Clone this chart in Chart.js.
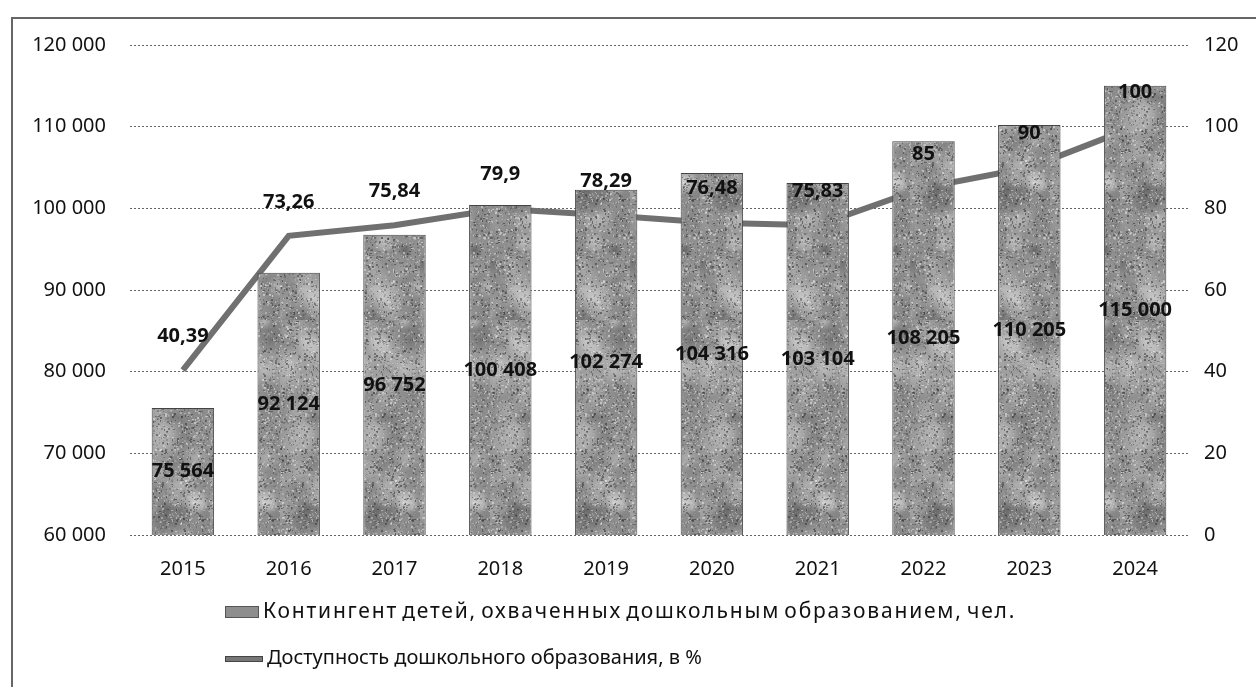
<!DOCTYPE html>
<html>
<head>
<meta charset="utf-8">
<script src="https://cdn.jsdelivr.net/npm/chart.js@4"></script>
<style>
  body { margin: 0; background: #fff; font-family: "Noto Sans", sans-serif; }
  #wrap { position: relative; width: 1256px; height: 687px; overflow: hidden; }
  #frame { position: absolute; left: 11px; top: 17px; width: 1300px; height: 700px;
           border-top: 2px solid #666; border-left: 2px solid #666; }
  canvas { position: absolute; left: 0; top: 0; }
  .leg { position: absolute; left: 225px; font-size: 20px; color: #111; white-space: nowrap; }
  .leg span { display: inline-block; vertical-align: middle; margin-right: 4px; letter-spacing: 0; }
  #leg1 { font-size: 21px; letter-spacing: 1.8px; word-spacing: -3px; }
  .sw-bar { width: 34px; height: 12px; background: #8e8e8e; border: 1px solid #555; box-sizing: border-box; }
  .sw-line { width: 38px; height: 6px; background: #777; border: 1px solid #444; box-sizing: border-box; }
</style>
</head>
<body>
<div id="wrap">
  <div id="frame"></div>
  <canvas id="myChart" width="1256" height="687"></canvas>
  <div class="leg" id="leg1" style="top:596px"></div>
  <div class="leg" id="leg2" style="top:643px"></div>
</div>
<script>
var years = ['2015', '2016', '2017', '2018', '2019', '2020', '2021', '2022', '2023', '2024'];
var contingent = [75564, 92124, 96752, 100408, 102274, 104316, 103104, 108205, 110205, 115000];
var availability = [40.39, 73.26, 75.84, 79.9, 78.29, 76.48, 75.83, 85, 90, 100];
var labelBars = 'Контингент детей, охваченных дошкольным образованием, чел.';
var labelLine = 'Доступность дошкольного образования, в %';

function fmtInt(v) {
    return String(v).replace(/\B(?=(\d{3})+(?!\d))/g, ' ');
}
function fmtDec(v) {
    return String(v).replace('.', ',');
}

var ctx = document.getElementById('myChart').getContext('2d');

// grey mottled fill for the bars, like the scanned texture
function makeTexture() {
    var c = document.createElement('canvas');
    c.width = 70; c.height = 320;
    var g = c.getContext('2d');
    g.fillStyle = '#8f8f8f';
    g.fillRect(0, 0, c.width, c.height);
    var s = 11;
    var rnd = function () { s = (s * 16807) % 2147483647; return s / 2147483647; };
    for (var i = 0; i < 90; i++) {
        var v = Math.floor(70 + rnd() * 170);
        var x = rnd() * 70, y = rnd() * 320, r = 8 + rnd() * 20;
        var grd = g.createRadialGradient(x, y, 0, x, y, r);
        grd.addColorStop(0, 'rgba(' + v + ',' + v + ',' + v + ',0.55)');
        grd.addColorStop(1, 'rgba(' + v + ',' + v + ',' + v + ',0)');
        g.fillStyle = grd;
        g.fillRect(x - r, y - r, r * 2, r * 2);
    }
    for (var j = 0; j < 4000; j++) {
        var w = Math.floor(40 + rnd() * 200);
        g.fillStyle = 'rgba(' + w + ',' + w + ',' + w + ',0.55)';
        g.fillRect(Math.floor(rnd() * 70), Math.floor(rnd() * 320), 1 + Math.floor(rnd() * 2), 1 + Math.floor(rnd() * 2));
    }
    return ctx.createPattern(c, 'repeat');
}

var valueLabels = {
    id: 'valueLabels',
    afterDatasetsDraw: function (chart) {
        var c = chart.ctx;
        var bottom = chart.chartArea.bottom;
        c.save();
        c.font = 'bold 20px "Noto Sans"';
        c.fillStyle = '#111';
        c.textAlign = 'center';
        c.textBaseline = 'middle';
        chart.getDatasetMeta(0).data.forEach(function (bar, i) {
            c.fillText(fmtInt(contingent[i]), bar.x, (bar.y + Math.min(bar.base, bottom)) / 2);
        });
        chart.getDatasetMeta(1).data.forEach(function (pt, i) {
            c.fillText(fmtDec(availability[i]), pt.x, pt.y - 34);
        });
        c.restore();
    }
};

var tickFont = { family: 'Noto Sans', size: 20 };

var chart = new Chart(ctx, {
    type: 'bar',
    data: {
        labels: years,
        datasets: [{
            label: labelBars,
            data: contingent,
            backgroundColor: makeTexture(),
            borderColor: '#444',
            borderWidth: 1,
            barPercentage: 0.59,
            categoryPercentage: 1,
            yAxisID: 'y',
            order: 1
        },
        {
            type: 'line',
            label: labelLine,
            data: availability,
            borderColor: '#707070',
            borderWidth: 6,
            pointRadius: 0,
            tension: 0,
            yAxisID: 'y1',
            order: 2
        }]
    },
    options: {
        responsive: false,
        animation: false,
        events: [],
        layout: { padding: { left: 10, right: 0, top: 45, bottom: 112 } },
        plugins: { legend: { display: false }, tooltip: { enabled: false } },
        scales: {
            x: {
                grid: { display: false },
                border: { display: false },
                ticks: { font: tickFont, color: '#111', padding: 14, maxRotation: 0 },
                afterFit: function (s) { s.height = 40; }
            },
            y: {
                position: 'left',
                min: 60000,
                max: 120000,
                ticks: { stepSize: 10000, font: tickFont, color: '#111', padding: 24,
                         callback: function (v) { return fmtInt(v); } },
                grid: { color: '#666', lineWidth: 1, drawTicks: false },
                border: { display: false, dash: [2, 2] },
                afterFit: function (s) { s.width = 120; }
            },
            y1: {
                position: 'right',
                min: 0,
                max: 120,
                ticks: { stepSize: 20, font: tickFont, color: '#111', padding: 16 },
                grid: { drawOnChartArea: false, drawTicks: false },
                border: { display: false },
                afterFit: function (s) { s.width = 68; }
            }
        }
    },
    plugins: [valueLabels]
});

document.getElementById('leg1').innerHTML = '<span class="sw-bar"></span>' + labelBars;
document.getElementById('leg2').innerHTML = '<span class="sw-line"></span>' + labelLine;
</script>
</body>
</html>
